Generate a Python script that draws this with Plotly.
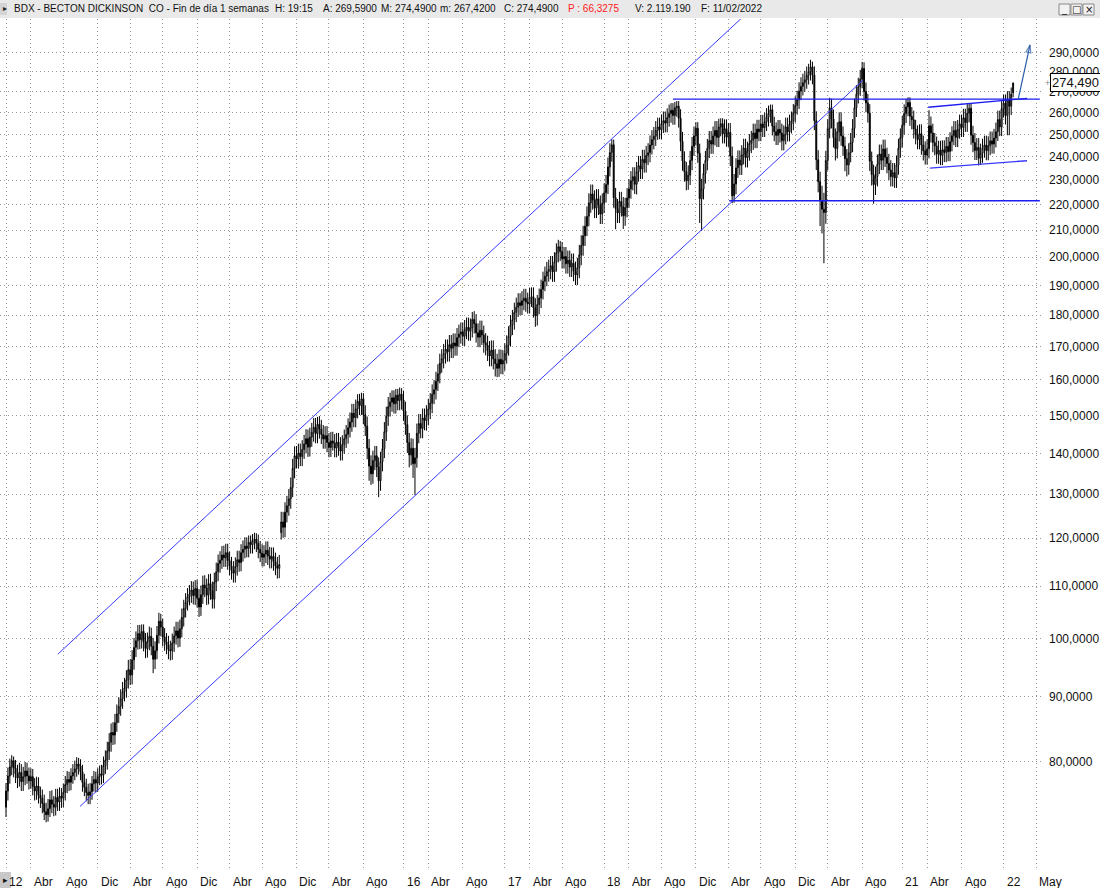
import math
import pandas as pd
import plotly.graph_objects as go

# weekly bars, BDX, Jan 2012 - Feb 11 2022
weeks = pd.date_range("2012-01-06", periods=528, freq="W-FRI")

opens = [
    73.6, 75.8, 77.9, 79.2, 80.1, 79.0, 78.2, 77.6, 78.4, 77.1,
    77.8, 78.6, 77.9, 77.2, 77.8, 76.4, 75.8, 76.5, 75.2, 74.8,
    74.1, 73.0, 72.6, 73.4, 74.6, 74.0, 73.6, 74.9, 74.3, 75.1,
    74.8, 75.6, 76.7, 77.4, 77.0, 77.9, 78.4, 78.9, 79.6, 79.3,
    78.5, 77.0, 76.3, 75.6, 75.2, 75.7, 76.8, 77.4, 76.9, 77.8,
    78.2, 78.0, 79.4, 80.2, 81.5, 82.8, 84.3, 83.9, 85.8, 87.2,
    88.4, 89.6, 90.8, 91.4, 92.8, 94.5, 93.6, 96.2, 98.4, 99.6,
    100.9, 99.8, 101.3, 99.4, 98.2, 99.5, 100.4, 98.6, 96.3, 97.8,
    100.6, 103.2, 102.1, 100.3, 99.4, 98.9, 98.0, 97.8, 99.2, 100.5,
    101.4, 100.1, 101.8, 103.9, 105.6, 106.8, 107.9, 108.4, 109.2, 108.1,
    109.5, 107.6, 105.9, 108.3, 110.2, 109.6, 108.2, 110.5, 109.1, 107.4,
    110.8, 112.9, 114.6, 115.3, 116.4, 115.8, 116.9, 115.2, 114.1, 113.2,
    112.6, 114.0, 115.4, 114.8, 116.9, 117.6, 118.3, 117.8, 119.1, 118.6,
    119.5, 119.8, 118.9, 117.6, 116.8, 115.9, 116.6, 117.4, 116.2, 115.5,
    116.1, 115.0, 114.1, 113.6, 121.2, 123.6, 122.4, 125.8, 127.3, 128.9,
    131.6, 136.2, 139.4, 138.6, 140.1, 139.2, 141.0, 142.4, 143.8, 141.6,
    144.2, 145.5, 146.8, 145.1, 147.6, 146.3, 144.9, 143.7, 144.6, 142.8,
    141.5, 143.2, 142.6, 141.4, 142.9, 141.8, 140.6, 142.3, 143.8, 144.9,
    146.7, 148.2, 150.6, 149.4, 151.8, 153.9, 152.7, 154.6, 150.2, 147.1,
    141.3, 136.8, 134.9, 138.2, 139.4, 136.6, 133.2, 137.9, 141.2, 145.6,
    149.8, 152.4, 153.7, 154.9, 153.2, 155.6, 154.1, 155.9, 154.3, 151.2,
    147.5, 142.8, 139.6, 141.3, 137.4, 138.9, 145.2, 147.8, 146.5, 149.3,
    148.6, 150.1, 151.8, 153.4, 155.9, 157.2, 159.6, 161.8, 164.9, 166.3,
    167.8, 169.2, 168.4, 170.6, 169.5, 171.1, 170.2, 172.8, 173.9, 174.6,
    173.2, 175.4, 176.1, 174.8, 175.9, 178.6, 177.2, 174.3, 172.9, 175.1,
    173.6, 171.2, 170.4, 168.7, 167.1, 168.9, 166.2, 164.8, 163.4, 166.1,
    164.7, 165.8, 167.9, 170.4, 173.2, 176.8, 178.5, 180.9, 182.6, 184.1,
    183.2, 184.8, 185.6, 184.3, 183.7, 185.9, 186.1, 182.4, 179.8, 183.5,
    185.7, 188.6, 191.4, 193.2, 194.8, 195.6, 196.9, 194.7, 198.3, 201.6,
    203.8, 202.1, 199.4, 200.2, 197.6, 198.9, 196.4, 197.8, 194.9, 193.6,
    196.2, 200.8, 204.3, 207.9, 211.6, 215.4, 220.7, 224.3, 221.9, 218.6,
    222.4, 219.8, 216.3, 220.6, 224.8, 228.2, 235.6, 241.9, 245.3, 222.8,
    218.4, 216.7, 221.3, 219.2, 215.6, 218.9, 222.7, 226.4, 229.8, 231.5,
    228.3, 233.6, 236.2, 234.7, 238.9, 237.4, 240.6, 241.8, 245.2, 247.6,
    249.1, 251.8, 253.4, 252.1, 254.9, 256.3, 255.2, 257.8, 259.6, 261.2,
    258.7, 262.4, 263.1, 257.4, 246.8, 238.2, 233.6, 229.8, 232.1, 238.4,
    244.6, 249.3, 252.8, 241.6, 222.4, 226.3, 232.8, 238.4, 243.7, 247.2,
    245.6, 249.3, 251.8, 248.6, 253.4, 254.9, 250.2, 252.6, 248.7, 250.9,
    240.3, 223.6, 228.4, 235.2, 238.6, 236.4, 240.9, 243.8, 239.6, 242.5,
    245.9, 247.3, 250.6, 248.1, 252.4, 251.2, 254.7, 253.1, 255.8, 257.9,
    259.6, 261.4, 253.8, 251.2, 249.5, 252.3, 250.6, 247.1, 249.8, 253.4,
    251.1, 254.7, 256.2, 259.8, 263.5, 266.2, 270.4, 272.8, 274.6, 276.1,
    278.3, 280.2, 282.6, 278.4, 256.3, 238.7, 229.4, 221.6, 218.2, 216.9,
    238.4, 252.6, 262.3, 257.1, 248.4, 243.6, 251.2, 255.8, 249.3, 244.7,
    239.2, 236.5, 241.8, 246.3, 252.7, 262.4, 268.9, 272.6, 276.4, 281.8,
    270.3, 264.7, 259.8, 238.1, 232.4, 228.2, 231.6, 236.8, 241.2, 238.5,
    243.4, 239.8, 237.1, 234.3, 231.5, 233.2, 230.9, 236.4, 243.8, 248.5,
    254.2, 259.6, 262.8, 264.9, 258.3, 256.7, 252.4, 249.8, 247.6, 250.3,
    245.2, 242.6, 240.8, 243.5, 253.9, 250.6, 246.3, 244.8, 241.2, 242.9,
    240.6, 243.1, 241.9, 244.6, 242.3, 246.7, 249.4, 251.8, 248.6, 252.3,
    254.8, 253.1, 257.6, 255.4, 259.8, 262.1, 249.6, 246.3, 242.8, 244.1,
    239.4, 241.6, 243.8, 245.2, 242.7, 244.9, 247.1, 245.6, 248.3, 251.2,
    256.8, 253.4, 261.9, 264.6, 258.7, 266.2, 263.1, 269.59,
]

highs = [
    76.9, 79.1, 80.4, 80.9, 80.7, 80.2, 79.5, 79.8, 79.6, 79.2,
    79.9, 79.8, 79.1, 79.0, 78.9, 77.6, 77.8, 77.7, 76.4, 76.0,
    75.3, 74.2, 74.7, 75.8, 75.9, 75.1, 76.1, 76.1, 76.3, 76.2,
    76.8, 77.9, 78.6, 78.5, 79.0, 79.6, 80.1, 80.6, 80.5, 80.3,
    79.5, 78.2, 77.5, 76.8, 76.9, 77.9, 78.6, 78.5, 79.0, 79.4,
    79.5, 80.7, 81.6, 82.9, 84.2, 85.7, 85.9, 87.2, 88.7, 89.9,
    91.2, 92.4, 93.1, 94.4, 96.2, 96.3, 97.9, 100.1, 101.3, 102.5,
    102.5, 102.6, 102.6, 101.0, 101.1, 102.2, 102.0, 100.1, 99.5, 102.3,
    104.8, 104.6, 103.7, 101.9, 101.0, 100.5, 99.6, 100.9, 102.2, 103.1,
    103.1, 103.5, 105.6, 107.3, 108.6, 109.6, 110.2, 111.0, 110.9, 111.2,
    111.3, 109.4, 110.1, 112.1, 112.2, 111.5, 112.4, 112.5, 110.9, 112.7,
    114.8, 116.5, 117.2, 118.3, 118.4, 118.8, 118.8, 117.1, 116.0, 115.1,
    115.9, 117.3, 117.3, 118.7, 119.5, 120.2, 120.2, 120.6, 120.6, 120.9,
    121.2, 121.1, 120.8, 119.4, 118.7, 118.5, 119.3, 119.3, 118.1, 118.0,
    118.0, 116.9, 116.0, 116.4, 125.9, 125.9, 128.1, 129.6, 131.2, 134.0,
    138.6, 141.8, 141.9, 142.5, 142.5, 143.4, 144.8, 146.3, 146.2, 146.7,
    148.0, 149.3, 149.3, 149.6, 149.8, 148.8, 147.4, 147.1, 147.1, 145.3,
    145.6, 145.6, 145.0, 145.3, 145.3, 144.2, 144.7, 146.2, 147.4, 149.2,
    150.8, 153.2, 153.2, 154.4, 155.9, 156.0, 156.3, 156.2, 152.8, 149.7,
    143.7, 139.5, 140.7, 141.9, 141.9, 139.0, 140.4, 143.7, 148.2, 152.4,
    155.1, 156.3, 157.0, 157.0, 157.4, 157.4, 157.8, 157.6, 156.9, 153.8,
    150.0, 145.3, 143.9, 143.8, 141.4, 147.8, 150.4, 150.4, 151.9, 151.9,
    152.8, 154.6, 156.2, 158.7, 160.0, 162.4, 164.6, 167.8, 169.2, 170.8,
    172.2, 172.2, 173.6, 173.6, 174.1, 174.1, 175.8, 176.9, 177.6, 177.6,
    178.4, 179.2, 179.2, 178.9, 181.0, 181.3, 180.3, 177.3, 178.2, 178.2,
    176.6, 174.2, 173.4, 171.7, 171.9, 171.9, 169.2, 167.8, 169.1, 169.1,
    168.9, 171.0, 173.5, 176.4, 180.0, 181.7, 184.1, 185.8, 187.3, 187.3,
    188.0, 188.8, 188.8, 187.5, 189.1, 189.3, 189.3, 185.6, 186.7, 188.9,
    192.0, 194.8, 196.6, 198.3, 199.1, 200.4, 200.4, 201.8, 205.1, 206.4,
    206.0, 205.6, 203.7, 203.7, 202.4, 202.4, 201.3, 201.3, 198.4, 199.7,
    204.5, 208.1, 211.7, 215.4, 219.3, 224.6, 228.2, 228.2, 225.8, 226.3,
    226.3, 223.7, 224.5, 228.7, 232.2, 239.7, 246.0, 247.8, 247.6, 226.8,
    222.3, 225.2, 225.2, 223.1, 222.8, 226.7, 230.4, 233.8, 235.5, 235.5,
    237.8, 240.4, 240.4, 243.1, 243.1, 244.8, 246.0, 249.5, 251.9, 253.4,
    256.1, 257.7, 257.7, 259.2, 260.6, 260.6, 262.1, 263.9, 264.6, 264.6,
    265.2, 265.6, 265.6, 261.7, 251.1, 242.4, 237.8, 236.3, 242.6, 248.8,
    253.6, 255.6, 255.6, 245.8, 230.6, 237.0, 242.6, 247.9, 251.5, 251.5,
    253.6, 256.1, 256.1, 257.2, 257.4, 257.4, 256.9, 256.9, 255.2, 255.2,
    244.5, 232.6, 239.4, 242.8, 242.8, 245.1, 248.0, 248.0, 246.7, 250.1,
    251.6, 254.9, 254.9, 256.7, 256.7, 259.0, 259.0, 260.1, 262.2, 263.4,
    263.9, 263.9, 258.1, 255.5, 256.6, 256.6, 254.9, 254.1, 257.7, 257.7,
    259.1, 260.6, 264.2, 267.9, 270.6, 274.8, 277.3, 279.1, 280.6, 282.8,
    284.2, 286.3, 285.3, 282.9, 260.7, 242.9, 233.6, 227.7, 224.8, 242.6,
    256.9, 267.2, 266.7, 261.5, 252.7, 255.5, 260.2, 260.2, 253.6, 248.9,
    243.4, 246.0, 250.6, 257.0, 266.8, 273.4, 277.1, 281.0, 285.2, 285.0,
    274.7, 269.1, 264.1, 242.3, 236.6, 235.8, 241.0, 245.4, 245.4, 247.6,
    247.6, 244.0, 241.3, 238.5, 237.3, 237.3, 240.6, 248.0, 252.7, 258.5,
    264.0, 266.6, 267.4, 267.4, 262.7, 261.0, 256.7, 254.1, 254.6, 254.6,
    249.4, 246.8, 247.7, 261.2, 258.2, 254.9, 250.6, 249.0, 247.1, 247.1,
    247.3, 247.3, 248.8, 248.8, 251.0, 253.7, 256.1, 256.1, 256.6, 259.1,
    259.1, 261.9, 261.9, 264.1, 264.6, 264.6, 253.9, 250.6, 248.3, 248.3,
    245.8, 248.0, 249.4, 249.4, 249.1, 251.3, 251.3, 252.5, 255.4, 261.0,
    261.0, 266.1, 268.8, 268.8, 270.4, 270.4, 272.2, 274.49,
]

lows = [
    72.3, 74.5, 76.8, 78.0, 77.7, 76.9, 76.2, 76.4, 75.8, 75.8,
    76.6, 76.8, 76.0, 76.1, 75.2, 74.5, 74.6, 74.1, 73.5, 72.8,
    71.9, 71.6, 71.7, 72.3, 72.8, 72.4, 72.5, 73.1, 73.1, 73.5,
    73.6, 74.5, 75.5, 75.8, 75.9, 76.8, 77.3, 77.8, 78.1, 77.3,
    75.7, 75.1, 74.4, 74.0, 74.0, 74.6, 75.7, 75.6, 75.7, 76.6,
    76.7, 76.9, 78.2, 78.8, 80.2, 81.4, 82.4, 82.5, 84.4, 85.8,
    86.9, 88.0, 89.2, 89.8, 91.3, 91.9, 92.0, 94.5, 96.7, 98.0,
    98.1, 98.2, 97.7, 96.5, 96.6, 97.9, 97.0, 93.9, 94.6, 96.3,
    99.1, 100.4, 98.6, 97.8, 97.2, 96.3, 96.1, 96.2, 97.6, 98.9,
    98.4, 98.5, 100.2, 102.2, 103.9, 105.2, 106.2, 106.7, 106.4, 106.3,
    105.8, 104.0, 104.2, 106.5, 107.8, 106.3, 106.4, 107.3, 105.6, 105.6,
    109.0, 111.0, 112.7, 113.5, 113.9, 113.9, 113.3, 112.2, 111.3, 110.7,
    110.7, 112.1, 112.9, 113.0, 115.0, 115.7, 115.9, 115.9, 116.7, 116.7,
    117.6, 117.0, 115.7, 114.9, 114.0, 114.0, 114.7, 114.3, 113.6, 113.6,
    113.1, 112.2, 111.5, 111.6, 119.7, 120.1, 120.2, 123.5, 125.0, 126.6,
    129.3, 133.8, 136.2, 136.2, 136.8, 136.8, 138.6, 140.0, 139.1, 139.2,
    141.7, 143.0, 142.6, 142.6, 143.8, 142.4, 141.2, 141.2, 140.3, 139.0,
    139.1, 140.7, 139.0, 139.0, 139.4, 138.2, 138.2, 139.9, 141.4, 142.5,
    144.1, 145.6, 146.8, 146.8, 149.2, 150.1, 150.1, 147.6, 144.5, 138.5,
    133.2, 132.2, 132.5, 135.8, 134.1, 129.3, 130.8, 135.5, 138.8, 143.2,
    147.2, 149.7, 151.0, 150.5, 150.5, 151.4, 151.4, 151.6, 148.5, 144.8,
    140.1, 136.5, 137.0, 133.9, 129.8, 136.4, 142.6, 143.9, 143.9, 146.0,
    145.9, 147.3, 149.0, 150.6, 153.1, 154.4, 156.8, 159.0, 162.1, 163.4,
    164.8, 165.4, 165.4, 166.5, 166.5, 167.2, 167.2, 169.8, 170.9, 170.2,
    170.2, 172.3, 171.8, 171.8, 172.8, 174.1, 171.2, 169.8, 169.8, 170.5,
    168.1, 167.3, 165.6, 164.0, 164.0, 163.1, 161.0, 160.8, 160.9, 161.7,
    161.6, 162.7, 164.8, 167.2, 170.0, 173.6, 175.3, 177.7, 179.4, 180.0,
    180.0, 181.6, 181.1, 180.5, 180.5, 182.7, 179.2, 176.2, 176.6, 180.3,
    182.3, 185.2, 188.0, 189.7, 191.3, 192.1, 191.2, 191.2, 194.8, 198.1,
    198.6, 195.9, 195.9, 194.1, 194.1, 192.9, 192.9, 191.4, 190.1, 190.1,
    192.5, 197.1, 200.5, 204.1, 207.8, 211.5, 216.8, 218.0, 214.7, 214.7,
    215.9, 212.4, 212.4, 216.7, 220.9, 224.3, 231.6, 237.9, 218.8, 210.4,
    212.8, 212.8, 215.3, 210.5, 211.7, 215.0, 218.8, 222.4, 225.8, 224.3,
    224.1, 229.4, 230.5, 230.5, 233.2, 233.2, 236.4, 237.6, 241.0, 243.3,
    244.8, 247.5, 247.8, 247.8, 250.6, 250.9, 250.9, 253.5, 255.3, 254.4,
    254.4, 258.1, 253.1, 242.5, 234.0, 229.4, 225.8, 226.0, 228.0, 234.2,
    240.4, 245.0, 237.4, 212.8, 209.8, 222.1, 228.6, 234.2, 239.5, 241.3,
    241.3, 245.0, 244.3, 244.3, 249.1, 245.9, 245.9, 244.4, 244.4, 236.0,
    220.6, 220.8, 224.2, 231.0, 232.2, 232.2, 236.7, 235.4, 235.4, 238.3,
    241.6, 243.0, 243.8, 243.8, 246.9, 246.9, 248.8, 248.8, 251.5, 253.6,
    255.3, 249.5, 246.9, 245.2, 245.2, 246.3, 242.8, 242.8, 245.5, 246.8,
    246.8, 250.4, 251.9, 255.4, 259.1, 261.8, 266.0, 268.3, 270.1, 271.6,
    273.7, 275.7, 273.8, 251.9, 234.3, 225.0, 211.6, 208.8, 197.8, 212.5,
    234.1, 248.2, 252.7, 244.1, 238.4, 239.3, 246.8, 244.9, 240.4, 233.8,
    231.6, 232.3, 237.6, 242.0, 248.4, 258.0, 264.4, 268.1, 271.8, 265.8,
    260.3, 255.4, 233.9, 227.8, 220.4, 223.9, 227.4, 232.6, 234.3, 234.3,
    235.6, 232.9, 230.1, 227.4, 227.4, 226.8, 226.8, 232.3, 239.6, 244.2,
    249.9, 255.2, 258.4, 253.9, 252.3, 248.1, 245.5, 243.3, 243.3, 240.9,
    238.4, 236.6, 236.6, 239.3, 246.3, 242.0, 240.6, 237.0, 237.0, 236.4,
    236.4, 237.7, 237.7, 238.1, 238.1, 242.4, 245.1, 244.3, 244.3, 248.0,
    248.8, 248.8, 251.1, 251.1, 255.5, 245.3, 242.0, 238.6, 238.6, 236.2,
    236.6, 237.4, 239.6, 238.5, 238.5, 240.7, 241.4, 241.4, 244.1, 247.0,
    249.2, 249.2, 257.7, 254.5, 249.6, 249.6, 258.9, 267.42,
]

closes = [
    75.8, 77.9, 79.2, 80.1, 79.0, 78.2, 77.6, 78.4, 77.1, 77.8,
    78.6, 77.9, 77.2, 77.8, 76.4, 75.8, 76.5, 75.2, 74.8, 74.1,
    73.0, 72.6, 73.4, 74.6, 74.0, 73.6, 74.9, 74.3, 75.1, 74.8,
    75.6, 76.7, 77.4, 77.0, 77.9, 78.4, 78.9, 79.6, 79.3, 78.5,
    77.0, 76.3, 75.6, 75.2, 75.7, 76.8, 77.4, 76.9, 77.8, 78.2,
    78.0, 79.4, 80.2, 81.5, 82.8, 84.3, 83.9, 85.8, 87.2, 88.4,
    89.6, 90.8, 91.4, 92.8, 94.5, 93.6, 96.2, 98.4, 99.6, 100.9,
    99.8, 101.3, 99.4, 98.2, 99.5, 100.4, 98.6, 96.3, 97.8, 100.6,
    103.2, 102.1, 100.3, 99.4, 98.9, 98.0, 97.8, 99.2, 100.5, 101.4,
    100.1, 101.8, 103.9, 105.6, 106.8, 107.9, 108.4, 109.2, 108.1, 109.5,
    107.6, 105.9, 108.3, 110.2, 109.6, 108.2, 110.5, 109.1, 107.4, 110.8,
    112.9, 114.6, 115.3, 116.4, 115.8, 116.9, 115.2, 114.1, 113.2, 112.6,
    114.0, 115.4, 114.8, 116.9, 117.6, 118.3, 117.8, 119.1, 118.6, 119.5,
    119.8, 118.9, 117.6, 116.8, 115.9, 116.6, 117.4, 116.2, 115.5, 116.1,
    115.0, 114.1, 113.6, 114.4, 123.6, 122.4, 125.8, 127.3, 128.9, 131.6,
    136.2, 139.4, 138.6, 140.1, 139.2, 141.0, 142.4, 143.8, 141.6, 144.2,
    145.5, 146.8, 145.1, 147.6, 146.3, 144.9, 143.7, 144.6, 142.8, 141.5,
    143.2, 142.6, 141.4, 142.9, 141.8, 140.6, 142.3, 143.8, 144.9, 146.7,
    148.2, 150.6, 149.4, 151.8, 153.9, 152.7, 154.6, 150.2, 147.1, 141.3,
    136.8, 134.9, 138.2, 139.4, 136.6, 133.2, 137.9, 141.2, 145.6, 149.8,
    152.4, 153.7, 154.9, 153.2, 155.6, 154.1, 155.9, 154.3, 151.2, 147.5,
    142.8, 139.6, 141.3, 137.4, 138.9, 145.2, 147.8, 146.5, 149.3, 148.6,
    150.1, 151.8, 153.4, 155.9, 157.2, 159.6, 161.8, 164.9, 166.3, 167.8,
    169.2, 168.4, 170.6, 169.5, 171.1, 170.2, 172.8, 173.9, 174.6, 173.2,
    175.4, 176.1, 174.8, 175.9, 178.6, 177.2, 174.3, 172.9, 175.1, 173.6,
    171.2, 170.4, 168.7, 167.1, 168.9, 166.2, 164.8, 163.4, 166.1, 164.7,
    165.8, 167.9, 170.4, 173.2, 176.8, 178.5, 180.9, 182.6, 184.1, 183.2,
    184.8, 185.6, 184.3, 183.7, 185.9, 186.1, 182.4, 179.8, 183.5, 185.7,
    188.6, 191.4, 193.2, 194.8, 195.6, 196.9, 194.7, 198.3, 201.6, 203.8,
    202.1, 199.4, 200.2, 197.6, 198.9, 196.4, 197.8, 194.9, 193.6, 196.2,
    200.8, 204.3, 207.9, 211.6, 215.4, 220.7, 224.3, 221.9, 218.6, 222.4,
    219.8, 216.3, 220.6, 224.8, 228.2, 235.6, 241.9, 245.3, 222.8, 218.4,
    216.7, 221.3, 219.2, 215.6, 218.9, 222.7, 226.4, 229.8, 231.5, 228.3,
    233.6, 236.2, 234.7, 238.9, 237.4, 240.6, 241.8, 245.2, 247.6, 249.1,
    251.8, 253.4, 252.1, 254.9, 256.3, 255.2, 257.8, 259.6, 261.2, 258.7,
    262.4, 263.1, 257.4, 246.8, 238.2, 233.6, 229.8, 232.1, 238.4, 244.6,
    249.3, 252.8, 241.6, 222.4, 226.3, 232.8, 238.4, 243.7, 247.2, 245.6,
    249.3, 251.8, 248.6, 253.4, 254.9, 250.2, 252.6, 248.7, 250.9, 240.3,
    223.6, 228.4, 235.2, 238.6, 236.4, 240.9, 243.8, 239.6, 242.5, 245.9,
    247.3, 250.6, 248.1, 252.4, 251.2, 254.7, 253.1, 255.8, 257.9, 259.6,
    261.4, 253.8, 251.2, 249.5, 252.3, 250.6, 247.1, 249.8, 253.4, 251.1,
    254.7, 256.2, 259.8, 263.5, 266.2, 270.4, 272.8, 274.6, 276.1, 278.3,
    280.2, 282.6, 278.4, 256.3, 238.7, 229.4, 221.6, 218.2, 216.9, 238.4,
    252.6, 262.3, 257.1, 248.4, 243.6, 251.2, 255.8, 249.3, 244.7, 239.2,
    236.5, 241.8, 246.3, 252.7, 262.4, 268.9, 272.6, 276.4, 281.8, 270.3,
    264.7, 259.8, 238.1, 232.4, 228.2, 231.6, 236.8, 241.2, 238.5, 243.4,
    239.8, 237.1, 234.3, 231.5, 233.2, 230.9, 236.4, 243.8, 248.5, 254.2,
    259.6, 262.8, 264.9, 258.3, 256.7, 252.4, 249.8, 247.6, 250.3, 245.2,
    242.6, 240.8, 243.5, 253.9, 250.6, 246.3, 244.8, 241.2, 242.9, 240.6,
    243.1, 241.9, 244.6, 242.3, 246.7, 249.4, 251.8, 248.6, 252.3, 254.8,
    253.1, 257.6, 255.4, 259.8, 262.1, 249.6, 246.3, 242.8, 244.1, 239.4,
    241.6, 243.8, 245.2, 242.7, 244.9, 247.1, 245.6, 248.3, 251.2, 256.8,
    253.4, 261.9, 264.6, 258.7, 266.2, 263.1, 268.9, 274.49,
]

# hand-drawn trend lines (date, price)
channel_top_x = ["2012-07-14", "2019-06-05"]
channel_top_y = [97.2, 310.6]
channel_low_x = ["2012-10-03", "2020-08-11"]
channel_low_y = [73.7, 276.0]
resist_x = ["2018-09-14", "2022-05-20"]
resist_y = [266.5, 266.5]
support_x = ["2019-04-08", "2022-05-20"]
support_y = [221.6, 221.6]
wedge_top_x = ["2021-04-06", "2022-04-03"]
wedge_top_y = [262.6, 266.9]
wedge_low_x = ["2021-04-12", "2022-04-03"]
wedge_low_y = [235.1, 238.3]
arrow_x = ["2022-03-01", "2022-04-14"]
arrow_y = [266.0, 294.1]

# axis labels
price_ticks = list(range(80, 300, 10))
month_ticks = ["2012-01", "2012-04", "2012-08", "2012-12", "2013-04", "2013-08",
               "2013-12", "2014-04", "2014-08", "2014-12", "2015-04", "2015-08",
               "2016-01", "2016-04", "2016-08", "2017-01", "2017-04", "2017-08",
               "2018-01", "2018-04", "2018-08", "2018-12", "2019-04", "2019-08",
               "2019-12", "2020-04", "2020-08", "2021-01", "2021-04", "2021-08",
               "2022-01", "2022-05"]
month_labels = ["12", "Abr", "Ago", "Dic", "Abr", "Ago", "Dic", "Abr", "Ago", "Dic",
                "Abr", "Ago", "16", "Abr", "Ago", "17", "Abr", "Ago", "18", "Abr",
                "Ago", "Dic", "Abr", "Ago", "Dic", "Abr", "Ago", "21", "Abr", "Ago",
                "22", "May"]

last_price = "274,490"

W, H = 1100, 888
L_M, R_M, T_M, B_M = 0, 57, 19, 20
PLOT_W = W - L_M - R_M
PLOT_H = H - T_M - B_M
FONT = "Liberation Sans, Arial, sans-serif"

n = min(len(opens), len(highs), len(lows), len(closes))
dates = weeks[:n]
hi = [max(highs[i], opens[i], closes[i]) for i in range(n)]
lo = [min(lows[i], opens[i], closes[i]) for i in range(n)]

fig = go.Figure()
fig.add_trace(go.Candlestick(
    x=dates, open=opens[:n], high=hi, low=lo, close=closes[:n],
    increasing=dict(line=dict(color="black", width=1), fillcolor="white"),
    decreasing=dict(line=dict(color="black", width=1), fillcolor="black"),
    whiskerwidth=0, showlegend=False, hoverinfo="skip",
))


def line(xs, ys, color, width):
    fig.add_trace(go.Scatter(x=xs, y=ys, mode="lines", showlegend=False,
                             hoverinfo="skip",
                             line=dict(color=color, width=width)))


line(channel_top_x, channel_top_y, "#3a3aff", 1)
line(channel_low_x, channel_low_y, "#3a3aff", 1)
line(resist_x, resist_y, "#1c1cf0", 1.4)
line(support_x, support_y, "#1c1cf0", 1.4)
line(wedge_top_x, wedge_top_y, "#1c1cf0", 1.4)
line(wedge_low_x, wedge_low_y, "#3a3aff", 1.4)

fig.add_trace(go.Scatter(
    x=arrow_x, y=arrow_y, mode="lines+markers", showlegend=False, hoverinfo="skip",
    line=dict(color="#2a5ca8", width=1.2),
    marker=dict(symbol=["circle", "arrow-open"], size=[0, 8], angleref="previous",
                color="#2a5ca8", line=dict(color="#2a5ca8", width=1.2)),
))

# month grid positions: first weekly bar of each labelled month
tick_dates = [pd.offsets.Week(weekday=4).rollforward(pd.Timestamp(m + "-01"))
              for m in month_ticks]

x0 = weeks[0] - pd.Timedelta(days=22)
x1 = weeks[0] + pd.Timedelta(days=3798.5)

fig.update_layout(
    width=W, height=H,
    margin=dict(l=L_M, r=R_M, t=T_M, b=B_M, autoexpand=False),
    paper_bgcolor="white", plot_bgcolor="white",
    font=dict(family=FONT, size=12, color="#111"),
    showlegend=False,
    xaxis=dict(
        type="date", range=[x0, x1], rangeslider=dict(visible=False),
        tickvals=tick_dates, showticklabels=False, ticks="",
        showgrid=True, gridcolor="#9a9a9a", griddash="1px,3px", gridwidth=1,
        zeroline=False, showline=False,
    ),
    yaxis=dict(
        type="log", side="right",
        range=[math.log10(65.9), math.log10(308.3)],
        tickvals=price_ticks,
        ticktext=["%d,0000" % v for v in price_ticks],
        ticks="", ticklabelstandoff=5,
        tickfont=dict(family=FONT, size=12, color="#111"),
        showgrid=True, gridcolor="#9a9a9a", griddash="1px,3px", gridwidth=1,
        zeroline=False, showline=False,
    ),
)

# x labels, left aligned next to their grid line
for d, txt in zip(tick_dates, month_labels):
    fig.add_annotation(x=d, xref="x", y=0, yref="paper", text=txt,
                       showarrow=False, xanchor="left", yanchor="middle",
                       xshift=1, yshift=-14,
                       font=dict(family=FONT, size=12, color="#111"))


def px_x(p):
    return (p - L_M) / PLOT_W


def px_y(p):
    return (H - B_M - p) / PLOT_H


# title strip
fig.add_shape(type="rect", xref="paper", yref="paper",
              x0=px_x(0), x1=px_x(W), y0=px_y(18), y1=px_y(0),
              fillcolor="#e9e9e9", line=dict(width=0), layer="above")
fig.add_shape(type="rect", xref="paper", yref="paper",
              x0=px_x(0), x1=px_x(7), y0=px_y(15), y1=px_y(3),
              fillcolor="#d4d4d4", line=dict(width=0), layer="above")
fig.add_annotation(xref="paper", yref="paper", x=px_x(1), y=px_y(9),
                   text="▸", showarrow=False, xanchor="left", yanchor="middle",
                   font=dict(family="DejaVu Sans", size=8, color="#222"))

title_parts = [
    (12, "BDX - BECTON DICKINSON  CO - Fin de día 1 semanas", "#111"),
    (273, "H: 19:15", "#111"),
    (321, "A: 269,5900", "#111"),
    (379, "M: 274,4900", "#111"),
    (438, "m: 267,4200", "#111"),
    (502, "C: 274,4900", "#111"),
    (566, "P : 66,3275", "#ff2020"),
    (633, "V: 2.119.190", "#111"),
    (699, "F: 11/02/2022", "#111"),
]
for xp, txt, col in title_parts:
    fig.add_annotation(xref="paper", yref="paper", x=px_x(xp), y=px_y(9),
                       text=txt.replace("  ", "&nbsp; "), showarrow=False,
                       xanchor="left", yanchor="middle",
                       font=dict(family=FONT, size=10, color=col))

# window buttons
for bx, glyph in [(1059, "_"), (1071, "□"), (1083, "×")]:
    fig.add_shape(type="rect", xref="paper", yref="paper",
                  x0=px_x(bx), x1=px_x(bx + 11), y0=px_y(15), y1=px_y(4),
                  fillcolor="#f2f2f2", line=dict(color="#8a8a8a", width=1),
                  layer="above")
    fig.add_annotation(xref="paper", yref="paper", x=px_x(bx + 5.5), y=px_y(9.5),
                       text=glyph, showarrow=False, xanchor="center",
                       yanchor="middle",
                       font=dict(family="DejaVu Sans", size=10, color="#111"))

# bottom-left scroll box
fig.add_shape(type="rect", xref="paper", yref="paper",
              x0=px_x(0), x1=px_x(11), y0=px_y(888), y1=px_y(872),
              fillcolor="#c8c8c8", line=dict(width=0), layer="above")
fig.add_annotation(xref="paper", yref="paper", x=px_x(1), y=px_y(880),
                   text="▸", showarrow=False, xanchor="left", yanchor="middle",
                   font=dict(family="DejaVu Sans", size=9, color="#111"))

# last price box on the scale
fig.add_annotation(xref="paper", yref="y", x=1, y=math.log10(closes[n - 1]),
                   text=last_price, showarrow=False, xanchor="left",
                   yanchor="middle", xshift=7,
                   bgcolor="white", bordercolor="black", borderwidth=1, borderpad=1,
                   font=dict(family=FONT, size=13, color="#111"))
fig.add_annotation(xref="paper", yref="y", x=1, y=math.log10(closes[n - 1]),
                   text="+", showarrow=False, xanchor="left", yanchor="middle",
                   xshift=0, font=dict(family=FONT, size=9, color="#888"))

fig.write_html("out.html", config={"displayModeBar": False},
               post_script="document.body.style.margin='0px';")
